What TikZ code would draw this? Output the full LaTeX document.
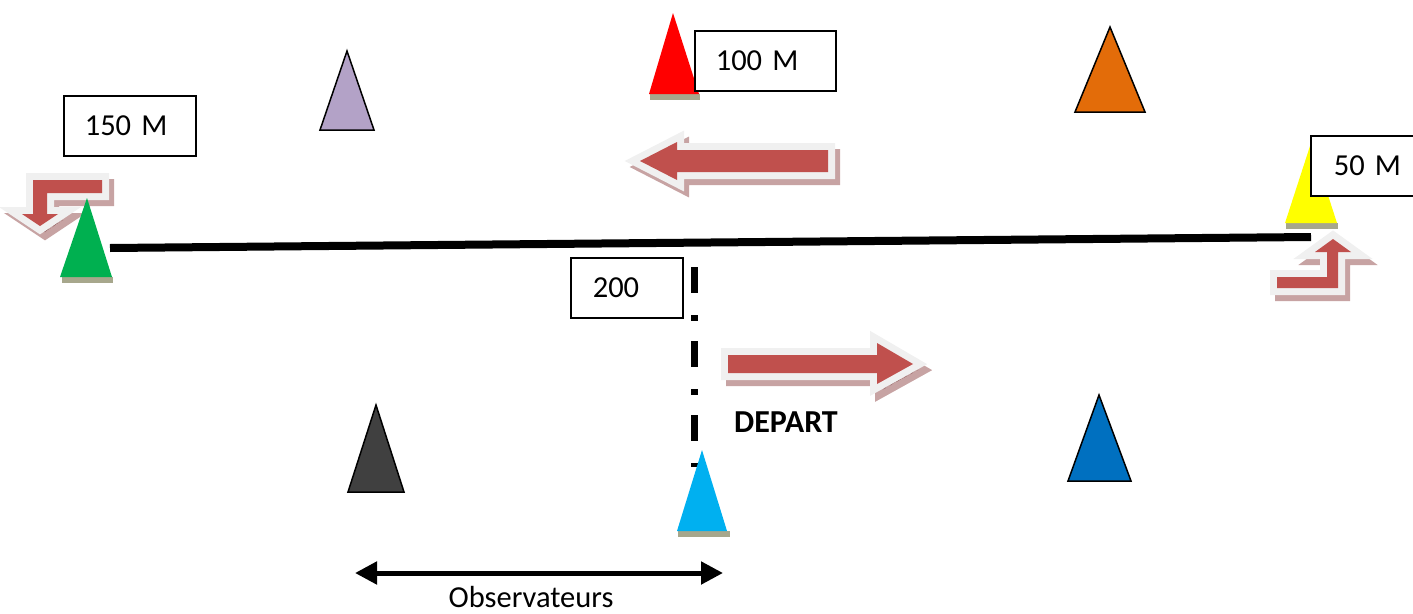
\documentclass[tikz,border=0pt]{standalone}
\usepackage{fontspec}
\setmainfont{Carlito}
\usetikzlibrary{arrows.meta,patterns}

\definecolor{conepurple}{HTML}{B3A2C7}
\definecolor{coneorange}{HTML}{E36C09}
\definecolor{coneblue}{HTML}{0070C0}
\definecolor{conedark}{HTML}{404040}
\definecolor{conecyan}{HTML}{00B0F0}
\definecolor{conegreen}{HTML}{00B050}
\definecolor{coneyellow}{HTML}{FFFF00}
\definecolor{conered}{HTML}{FF0000}
\definecolor{arrowred}{HTML}{C0504D}
\definecolor{halocol}{HTML}{F0F0F0}
\definecolor{ombrecol}{HTML}{C7A3A3}
\definecolor{ombretrait}{HTML}{9A6A6A}
\definecolor{socle}{HTML}{A7A78C}

\tikzset{
  cone/.style={draw=black, line width=1.5pt, line join=miter},
  plaincone/.style={draw=none},
  box/.style={draw=black, fill=white, line width=1.6pt, rectangle, align=left,
    inner ysep=0pt, minimum height=60pt, anchor=north west,
    font=\fontsize{30.5}{34}\selectfont},
  ombre/.style={fill=ombrecol, draw=ombrecol, line width=14pt, line join=miter},
  halo/.style={fill=halocol, draw=halocol, line width=14pt, line join=miter},
  corps/.style={fill=arrowred},
  txt/.style={inner sep=0pt, font=\fontsize{30.5}{34}\selectfont},
}

% block arrow: hatched shadow, pale halo, red body
\newcommand\flechebloc[1]{%
  \filldraw[ombre, shift={(5,6)}] #1 -- cycle;
  \fill[pattern=crosshatch, pattern color=ombretrait, shift={(5,6)}] #1 -- cycle;
  \filldraw[halo] #1 -- cycle;
  \fill[corps] #1 -- cycle;}

\begin{document}
\begin{tikzpicture}[x=1pt, y=-1pt]
\useasboundingbox (0,0) rectangle (1413,613);

% direction arrows
\flechebloc{(640,161) -- (677,142) -- (677,150) -- (828,150) -- (828,172) -- (677,172) -- (677,180)}
\flechebloc{(728,355) -- (877,355) -- (877,343) -- (913,364) -- (877,384) -- (877,373) -- (728,373)}
\flechebloc{(102,180) -- (33,180) -- (33,214) -- (22,214) -- (40,226) -- (58,214) -- (47,214) -- (47,193) -- (102,193)}
\flechebloc{(1277,277) -- (1327,277) -- (1327,252) -- (1315,252) -- (1333,239) -- (1351,252) -- (1338,252) -- (1338,288) -- (1277,288)}

% straight line between the 150 m and 50 m cones
\coordinate (ligneG) at (110,248);
\coordinate (ligneD) at (1311,237);
\draw[line width=8pt] (ligneG) -- (ligneD);

% dash-dot start line
\coordinate (depH) at (694,267);
\coordinate (depB) at (694,467);
\draw[line width=7pt, dash pattern=on 26pt off 22pt on 6pt off 20pt] (depH) -- (depB);

% cones with a hatched base
\fill[socle] (650,94) rectangle (700,100);
\fill[plaincone, conered] (673,13) -- (649,94) -- (699,94) -- cycle;
\fill[socle] (62,277) rectangle (113,283);
\fill[plaincone, conegreen] (87,198) -- (60,277) -- (112,277) -- cycle;
\fill[socle] (1286,223) rectangle (1338,229);
\fill[plaincone, coneyellow] (1311,143) -- (1285,223) -- (1337,223) -- cycle;
\fill[socle] (678,531) rectangle (730,537);
\fill[plaincone, conecyan] (702,450) -- (677,531) -- (727,531) -- cycle;

% outlined cones
\filldraw[cone, fill=conepurple] (347,51) -- (320,130) -- (374,130) -- cycle;
\filldraw[cone, fill=coneorange] (1110,27) -- (1075,112) -- (1145,112) -- cycle;
\filldraw[cone, fill=coneblue] (1099,395) -- (1068,481) -- (1131,481) -- cycle;
\filldraw[cone, fill=conedark] (376,405) -- (348,492) -- (404,492) -- cycle;

% distance labels
\node[box, text width=90pt, inner xsep=21pt] (b150) at (63,95) {150 M};
\node[box, text width=99pt, inner xsep=21pt] (b100) at (694,30) {100 M};
\node[box, text width=70pt, inner xsep=23pt] (b50) at (1310,135) {50 M};
\node[box, text width=68pt, inner xsep=22pt] (b200) at (570,257) {200};

\node[txt, anchor=base west, font=\fontsize{32}{36}\selectfont\bfseries] (depart) at (734,432) {DEPART};

% observers zone
\coordinate (obsG) at (355,573);
\coordinate (obsD) at (723,573);
\draw[line width=5pt, {Triangle[length=22pt,width=22pt]}-{Triangle[length=22pt,width=22pt]}] (obsG) -- (obsD);
\node[txt, anchor=base] (obs) at (531,607) {Observateurs};
\end{tikzpicture}
\end{document}
